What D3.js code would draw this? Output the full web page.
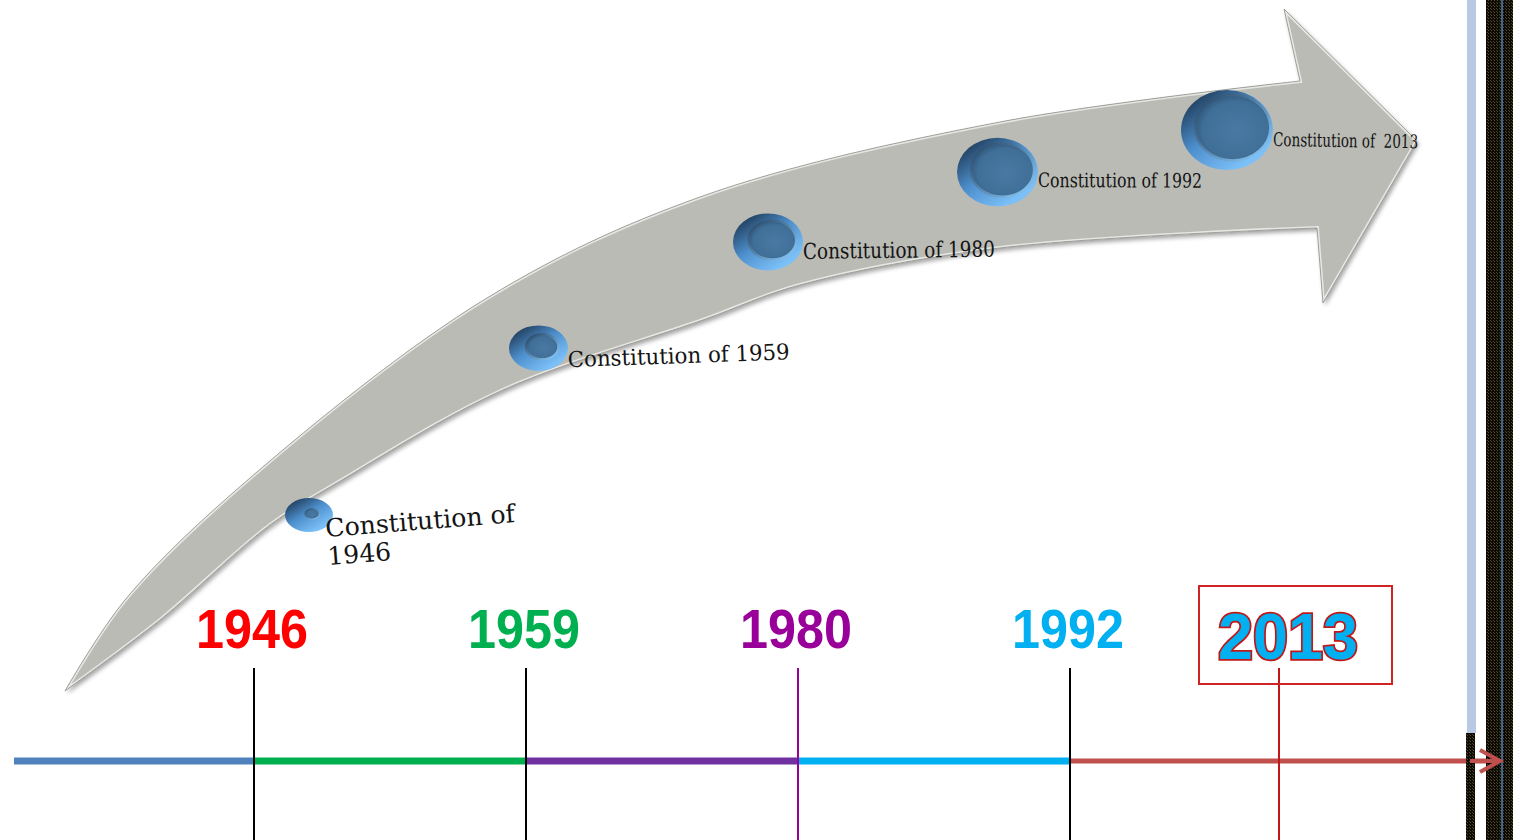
<!DOCTYPE html>
<html>
<head>
<meta charset="utf-8">
<script src="https://cdn.jsdelivr.net/npm/d3@7"></script>
<style>
  html, body { margin: 0; padding: 0; background: #fff; }
  svg { display: block; }
  .label { font-family: "DejaVu Serif", serif; fill: #141414; white-space: pre; }
  .year { font-family: "Liberation Sans", Arial, sans-serif; font-weight: bold; }
</style>
</head>
<body>
<div class="chart"></div>
<script>
// data
const years = [1946, 1959, 1980, 1992, 2013];
const labels = [
  ["Constitution of", "1946"],
  ["Constitution of 1959"],
  ["Constitution of 1980"],
  ["Constitution of 1992"],
  ["Constitution of  2013"]
];
const yearColors = ["#FF0000", "#00B050", "#990099", "#00B0F0", "#00B0F0"];
const tickColors = ["#000000", "#000000", "#990099", "#000000", "#C01818"];
const segmentColors = ["#4F81BD", "#00B050", "#7030A0", "#00B0F0", "#C0504D"];

// look of the labels along the arrow (size, squeezed width, tilt, drop)
const labelSize = [25, 22, 22, 20, 19];
const labelWidth = [190, 222, 192, 164, 145];
const labelTilt = [-4.5, -2, -0.7, 0.2, 0.9];
const labelDrop = [22, 19, 17, 15, 16];
const faceRatio = [0.3, 0.55, 0.68, 0.78, 0.82];

let svgWidth = 1513;
let svgHeight = 840;
let lineY = 761;

let svg = d3.select(".chart")
  .append("svg")
  .attr("width", svgWidth)
  .attr("height", svgHeight);

let defs = svg.append("defs");

defs.append("filter").attr("id", "shadow")
  .attr("x", "-5%").attr("y", "-5%").attr("width", "110%").attr("height", "115%")
  .append("feDropShadow")
  .attr("dx", 2).attr("dy", 3).attr("stdDeviation", 2)
  .attr("flood-color", "#000").attr("flood-opacity", 0.35);

let rim = defs.append("linearGradient").attr("id", "rim")
  .attr("x1", 0).attr("y1", 0.3).attr("x2", 0.6).attr("y2", 1);
rim.append("stop").attr("offset", "0%").attr("stop-color", "#27496c");
rim.append("stop").attr("offset", "45%").attr("stop-color", "#4d8fcc");
rim.append("stop").attr("offset", "100%").attr("stop-color", "#7cc0f8");

let face = defs.append("radialGradient").attr("id", "face")
  .attr("cx", 0.55).attr("cy", 0.55).attr("r", 0.6);
face.append("stop").attr("offset", "0%").attr("stop-color", "#4a7aa3");
face.append("stop").attr("offset", "75%").attr("stop-color", "#3f6e97");
face.append("stop").attr("offset", "100%").attr("stop-color", "#2d5275");

let bevel = defs.append("linearGradient").attr("id", "bevel")
  .attr("x1", 0).attr("y1", 0).attr("x2", 1).attr("y2", 1);
bevel.append("stop").attr("offset", "0%").attr("stop-color", "#22405e");
bevel.append("stop").attr("offset", "100%").attr("stop-color", "#8fd0ff");

let weave = defs.append("pattern").attr("id", "weave")
  .attr("width", 3).attr("height", 3).attr("patternUnits", "userSpaceOnUse");
weave.append("rect").attr("width", 3).attr("height", 3).attr("fill", "#0d0b06");
weave.append("rect").attr("width", 1).attr("height", 1).attr("fill", "#5a4b2a");
weave.append("rect").attr("x", 2).attr("y", 2).attr("width", 1).attr("height", 1).attr("fill", "#4a3e22");

// the big curved arrow (decoration)
const upperEdge = [[65, 691], [125, 600], [250, 478], [487, 298], [700, 197], [1000, 122], [1300, 81]];
const headPts = [[1284, 9], [1417, 141], [1323, 303]];
const lowerEdge = [[1317, 228], [1000, 248], [800, 285], [703, 320], [503, 390], [342, 480], [270, 525], [160, 620], [65, 691]];

let edge = d3.line().curve(d3.curveCatmullRom.alpha(0.5));
let arrowD = edge(upperEdge)
  + headPts.map(p => "L" + p[0] + "," + p[1]).join("")
  + "L" + edge(lowerEdge).slice(1) + "Z";

defs.append("clipPath").attr("id", "arrowClip")
  .append("path").attr("d", arrowD);

svg.append("path")
  .attr("d", arrowD)
  .attr("fill", "#babbb5")
  .attr("filter", "url(#shadow)");

svg.append("path")
  .attr("d", arrowD)
  .attr("fill", "none")
  .attr("stroke", "#e6e7e2")
  .attr("stroke-width", 4)
  .attr("clip-path", "url(#arrowClip)");

svg.append("path")
  .attr("d", arrowD)
  .attr("fill", "none")
  .attr("stroke", "#8e8f8a")
  .attr("stroke-width", 0.8);

// discs along the arrow
let discX = d3.scalePoint().domain(years).range([309, 1227]);
let trail = d3.scaleLinear()
  .domain([309, 528, 770, 1011, 1227])
  .range([515, 353, 241, 168, 130]);
let rx = d3.scaleLinear().domain([0, years.length - 1]).range([24, 46]);
let ry = d3.scaleLinear().domain([0, years.length - 1]).range([17, 40]);

let disc = svg.selectAll("g.disc")
  .data(years)
  .enter().append("g")
  .attr("class", "disc")
  .attr("transform", d => `translate(${discX(d)}, ${trail(discX(d))})`);

disc.append("ellipse")
  .attr("rx", (d, i) => rx(i))
  .attr("ry", (d, i) => ry(i))
  .attr("fill", "url(#rim)");

disc.append("ellipse")
  .attr("cx", (d, i) => rx(i) * (0.14 - faceRatio[i] * 0.02))
  .attr("cy", (d, i) => -ry(i) * 0.06)
  .attr("rx", (d, i) => rx(i) * faceRatio[i])
  .attr("ry", (d, i) => ry(i) * faceRatio[i])
  .attr("fill", "url(#face)")
  .attr("stroke", "url(#bevel)")
  .attr("stroke-width", (d, i) => i === 0 ? 1.2 : 2.5);

// labels
let label = svg.selectAll("text.label")
  .data(years)
  .enter().append("text")
  .attr("class", "label")
  .attr("transform", (d, i) => {
    let x = discX(d) + rx(i) - (i === 0 ? 7 : 0);
    let y = trail(discX(d)) + labelDrop[i];
    return `translate(${x}, ${y}) rotate(${labelTilt[i]})`;
  })
  .style("font-size", (d, i) => labelSize[i] + "px");

label.each(function(d, i) {
  let t = d3.select(this);
  labels[i].forEach((line, j) => {
    let ts = t.append("tspan").attr("x", 0).attr("dy", j === 0 ? 0 : 28).text(line);
    if (j === 0) ts.attr("textLength", labelWidth[i]).attr("lengthAdjust", "spacingAndGlyphs");
  });
});

// timeline
let xTick = d3.scalePoint().domain(years).range([254, 1342]);
let lastShift = -63;
let tickX = d => xTick(d) + (d === years[years.length - 1] ? lastShift : 0);

let stops = [14].concat(years.slice(0, 4).map(tickX)).concat([1497]);
svg.selectAll("line.seg")
  .data(segmentColors)
  .enter().append("line")
  .attr("class", "seg")
  .attr("x1", (d, i) => stops[i])
  .attr("x2", (d, i) => stops[i + 1])
  .attr("y1", lineY)
  .attr("y2", lineY)
  .attr("stroke", d => d)
  .attr("stroke-width", (d, i) => i === 4 ? 5 : 7);

svg.selectAll("line.tick")
  .data(years)
  .enter().append("line")
  .attr("class", "tick")
  .attr("x1", tickX)
  .attr("x2", tickX)
  .attr("y1", 668)
  .attr("y2", svgHeight)
  .attr("stroke", (d, i) => tickColors[i])
  .attr("stroke-width", 2);

let last = years[years.length - 1];
svg.append("rect")
  .attr("x", tickX(last) - 80)
  .attr("y", 586)
  .attr("width", 193)
  .attr("height", 98)
  .attr("fill", "none")
  .attr("stroke", "#D02424")
  .attr("stroke-width", 2);

svg.selectAll("text.year")
  .data(years)
  .enter().append("text")
  .attr("class", "year")
  .attr("x", d => tickX(d) + (d === last ? 9 : -2))
  .attr("y", d => d === last ? 659 : 648)
  .attr("text-anchor", "middle")
  .attr("textLength", d => d === last ? 140 : 112)
  .attr("lengthAdjust", "spacingAndGlyphs")
  .style("font-size", d => d === last ? "64px" : "55px")
  .attr("fill", (d, i) => yearColors[i])
  .attr("stroke", d => d === last ? "#C01818" : "none")
  .attr("stroke-width", 3.5)
  .attr("paint-order", "stroke")
  .text(d => d);

// slide border on the right
svg.append("rect").attr("x", 1467).attr("y", 0).attr("width", 9).attr("height", 733).attr("fill", "#b9c9e4");
svg.append("rect").attr("x", 1466).attr("y", 733).attr("width", 9).attr("height", 107).attr("fill", "url(#weave)");
svg.append("rect").attr("x", 1486).attr("y", 0).attr("width", 27).attr("height", svgHeight).attr("fill", "url(#weave)");
svg.append("line").attr("x1", 1502).attr("x2", 1502).attr("y1", 0).attr("y2", svgHeight)
  .attr("stroke", "#4F81BD").attr("stroke-width", 1.5);

// end of the time line with its arrow head
svg.append("path")
  .attr("d", `M1480,${lineY - 11}L1500,${lineY}L1480,${lineY + 11}M1470,${lineY}L1497,${lineY}`)
  .attr("fill", "none")
  .attr("stroke", "#C0504D")
  .attr("stroke-width", 4);
</script>
</body>
</html>
